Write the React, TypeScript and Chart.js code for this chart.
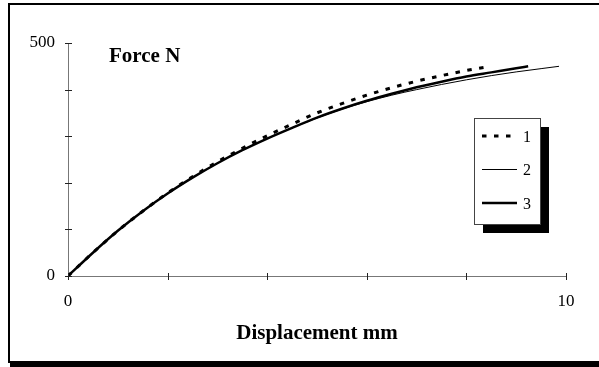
import React, { useEffect, useRef } from "react";
import { Chart, registerables } from "chart.js";

Chart.register(...registerables);

const xs1 = [0, 0.5, 1, 1.5, 2, 2.5, 3, 3.5, 4, 4.5, 5, 5.5, 6, 6.5, 7, 7.5, 8, 8.37];
const force1 = [0, 50, 97, 139, 178, 213, 245, 274, 301, 326, 350, 370, 388, 404, 418, 430, 441, 448];

const xs2 = [0, 0.5, 1, 1.5, 2, 2.5, 3, 3.5, 4, 4.5, 5, 5.5, 6, 6.5, 7, 7.5, 8, 8.5, 9, 9.5, 9.86];
const force2 = [0, 50, 97, 139, 177, 211, 242, 270, 295, 318, 339, 358, 374, 388, 400, 411, 421, 430, 438, 445, 450];

const xs3 = [0, 0.5, 1, 1.5, 2, 2.5, 3, 3.5, 4, 4.5, 5, 5.5, 6, 6.5, 7, 7.5, 8, 8.5, 9, 9.24];
const force3 = [0, 50, 97, 139, 177, 211, 242, 270, 295, 318, 340, 359, 376, 391, 405, 417, 428, 437, 446, 450];

const seriesLabels = ["1", "2", "3"];
const xTickLabels = [0, 10];
const yTickLabels = [0, 500];
const yTitle = "Force N";
const xTitle = "Displacement mm";

const SERIF = "'Liberation Serif', 'Times New Roman', serif";

const toPts = (xs: number[], ys: number[]) => xs.map((x, i) => ({ x, y: ys[i] }));

const framePlugin = {
  id: "frame",
  beforeDraw(chart: any) {
    const ctx = chart.ctx;
    ctx.save();
    ctx.fillStyle = "#ffffff";
    ctx.fillRect(0, 0, chart.width, chart.height);
    ctx.strokeStyle = "#000";
    ctx.lineWidth = 2;
    ctx.strokeRect(9, 4, 600, 358);
    ctx.fillStyle = "#000";
    ctx.fillRect(10, 361, chart.width - 10, 6);
    ctx.restore();
  },
  afterDraw(chart: any) {
    const ctx = chart.ctx;
    const xs = chart.scales.x;
    const ys = chart.scales.y;
    ctx.save();
    ctx.strokeStyle = "#222";
    ctx.lineWidth = 1;
    ys.ticks.forEach((t: any) => {
      const py = Math.round(ys.getPixelForValue(t.value)) + 0.5;
      ctx.beginPath();
      ctx.moveTo(65, py);
      ctx.lineTo(72, py);
      ctx.stroke();
    });
    xs.ticks.forEach((t: any) => {
      const px = Math.round(xs.getPixelForValue(t.value)) + 0.5;
      ctx.beginPath();
      ctx.moveTo(px, 273);
      ctx.lineTo(px, 280);
      ctx.stroke();
    });
    ctx.fillStyle = "#000";
    ctx.font = `bold 21px ${SERIF}`;
    ctx.textAlign = "left";
    ctx.textBaseline = "alphabetic";
    ctx.fillText(yTitle, 109, 62);
    ctx.textAlign = "center";
    ctx.fillText(xTitle, (chart.chartArea.left + chart.chartArea.right) / 2, 339);

    const bx = 474, by = 118, bw = 66, bh = 106;
    ctx.fillStyle = "#000";
    ctx.fillRect(bx + 9, by + 9, bw, bh);
    ctx.fillStyle = "#fff";
    ctx.fillRect(bx, by, bw, bh);
    ctx.strokeStyle = "#444";
    ctx.lineWidth = 1;
    ctx.strokeRect(bx + 0.5, by + 0.5, bw, bh);
    const lineYs = [136, 169.5, 203];
    const textYs = [138, 171, 205];
    chart.data.datasets.forEach((ds: any, i: number) => {
      ctx.save();
      ctx.strokeStyle = ds.borderColor;
      ctx.lineWidth = ds.borderWidth;
      ctx.setLineDash(ds.borderDash || []);
      ctx.beginPath();
      ctx.moveTo(482, lineYs[i]);
      ctx.lineTo(517, lineYs[i]);
      ctx.stroke();
      ctx.restore();
      ctx.fillStyle = "#000";
      ctx.font = `16px ${SERIF}`;
      ctx.textAlign = "left";
      ctx.textBaseline = "middle";
      ctx.fillText(ds.label, 523, textYs[i]);
    });
    ctx.restore();
  },
};

export default function App() {
  const ref = useRef<HTMLCanvasElement | null>(null);
  useEffect(() => {
    if (!ref.current) return;
    Chart.defaults.font.family = SERIF;
    const chart = new Chart(ref.current, {
      type: "line",
      data: {
        datasets: [
          {
            label: seriesLabels[0],
            data: toPts(xs1, force1),
            borderColor: "#000",
            borderWidth: 3,
            borderDash: [4.5, 7.5],
            pointRadius: 0,
            cubicInterpolationMode: "monotone",
            fill: false,
          },
          {
            label: seriesLabels[1],
            data: toPts(xs2, force2),
            borderColor: "#000",
            borderWidth: 1,
            pointRadius: 0,
            cubicInterpolationMode: "monotone",
            fill: false,
          },
          {
            label: seriesLabels[2],
            data: toPts(xs3, force3),
            borderColor: "#000",
            borderWidth: 2.5,
            pointRadius: 0,
            cubicInterpolationMode: "monotone",
            fill: false,
          },
        ],
      },
      options: {
        responsive: false,
        animation: false,
        events: [],
        layout: { padding: { top: 43, right: 33, left: 0, bottom: 0 } },
        plugins: { legend: { display: false }, tooltip: { enabled: false } },
        scales: {
          x: {
            type: "linear",
            min: 0,
            max: 10,
            grid: { display: false, drawTicks: false },
            border: { display: true, color: "#777", width: 1 },
            ticks: {
              stepSize: 2,
              padding: 15,
              color: "#000",
              font: { size: 17, family: SERIF },
              maxRotation: 0,
              autoSkip: false,
              callback: (v: any) => (xTickLabels.includes(Number(v)) ? String(v) : ""),
            },
            afterFit: (s: any) => {
              s.height = 91;
            },
          },
          y: {
            type: "linear",
            min: 0,
            max: 500,
            grid: { display: false, drawTicks: false },
            border: { display: true, color: "#777", width: 1 },
            ticks: {
              stepSize: 100,
              padding: 13,
              color: "#000",
              font: { size: 17, family: SERIF },
              autoSkip: false,
              callback: (v: any) => (yTickLabels.includes(Number(v)) ? String(v) : ""),
            },
            afterFit: (s: any) => {
              s.width = 68;
            },
          },
        },
      },
      plugins: [framePlugin],
    });
    return () => chart.destroy();
  }, []);
  return (
    <canvas
      ref={ref}
      width={599}
      height={367}
      style={{ position: "absolute", left: 0, top: 0, width: 599, height: 367 }}
    />
  );
}
